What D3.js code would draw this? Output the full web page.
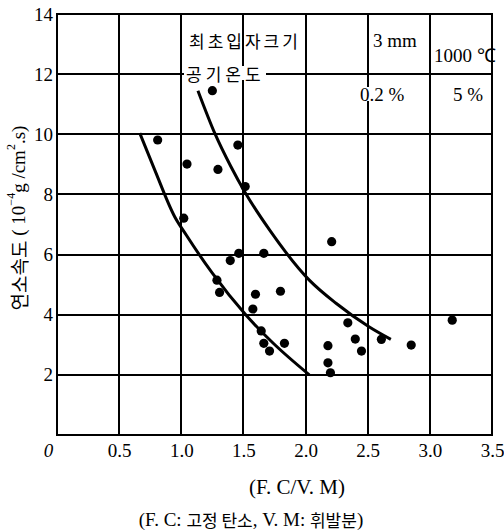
<!DOCTYPE html>
<html><head><meta charset="utf-8">
<script src="https://cdn.jsdelivr.net/npm/d3@7"></script>
<style>
body{margin:0;background:#fff;}
svg{display:block;}
</style></head>
<body>
<svg id="c" width="504" height="531"></svg>
<script>
const xTicks = [0, 0.5, 1.0, 1.5, 2.0, 2.5, 3.0, 3.5];
const xTickLabels = ["0", "0.5", "1.0", "1.5", "2.0", "2.5", "3.0", "3.5"];
const yTicks = [0, 2, 4, 6, 8, 10, 12, 14];
const yTickLabels = ["", "2", "4", "6", "8", "10", "12", "14"];

const dotX = [1.25, 0.81, 1.455, 1.046, 1.295, 1.514, 1.02, 2.21, 1.463, 1.664, 1.394, 1.287, 1.308, 1.597, 1.798, 1.576, 1.643, 1.664, 1.71, 1.83, 2.34, 2.40, 2.45, 2.61, 2.85, 3.18, 2.18, 2.18, 2.20];
const dotY = [11.45, 9.81, 9.64, 9.01, 8.83, 8.26, 7.21, 6.43, 6.04, 6.04, 5.80, 5.15, 4.74, 4.68, 4.78, 4.19, 3.46, 3.05, 2.79, 3.05, 3.73, 3.19, 2.79, 3.18, 2.99, 3.82, 2.97, 2.40, 2.07];

const upperX = [1.134, 1.27, 1.40, 1.51, 1.71, 2.03, 2.245, 2.51, 2.686];
const upperY = [11.45, 10.03, 8.92, 8.09, 6.82, 5.15, 4.38, 3.60, 3.18];
const lowerX = [0.666, 0.787, 0.947, 1.04, 1.25, 1.52, 1.74, 2.03];
const lowerY = [10.04, 8.81, 7.26, 6.65, 5.38, 3.99, 3.05, 2.0];

const svg = d3.select("#c");
const L = 57, R = 492, T = 14, B = 435;
const x = d3.scaleLinear().domain([0, 3.5]).range([L, R]);
const y = d3.scaleLinear().domain([0, 14]).range([B, T]);
const serif = "'Liberation Serif', 'Times New Roman', serif";
const kr = "'Noto Sans CJK KR', sans-serif";

// gridlines as thin filled rects
const grid = svg.append("g").attr("fill", "#000");
grid.selectAll("rect.v").data(xTicks).join("rect").attr("class", "v")
  .attr("x", d => Math.round(x(d)) - 1).attr("y", T).attr("width", 2).attr("height", B - T);
grid.selectAll("rect.h").data(yTicks).join("rect").attr("class", "h")
  .attr("x", L).attr("y", d => Math.round(y(d)) - 1).attr("width", R - L).attr("height", 2);

// axes (labels only)
const gx = svg.append("g").attr("transform", `translate(0,${B})`)
  .call(d3.axisBottom(x).tickValues(xTicks).tickSize(0).tickPadding(9)
    .tickFormat((d, i) => xTickLabels[i]));
gx.select(".domain").remove();
gx.selectAll("text").attr("font-family", serif).attr("font-size", 19).attr("fill", "#000");
gx.selectAll("text").filter((d) => d === 0).attr("font-style", "italic").attr("dx", -9);

const gy = svg.append("g").attr("transform", `translate(${L},0)`)
  .call(d3.axisLeft(y).tickValues(yTicks).tickSize(0).tickPadding(4)
    .tickFormat((d, i) => yTickLabels[i]));
gy.select(".domain").remove();
gy.selectAll("text").attr("font-family", serif).attr("font-size", 19).attr("fill", "#000");

// border
svg.append("path").attr("d", `M${L},${T}H${R}V${B}H${L}Z`)
  .attr("fill", "none").attr("stroke", "#000").attr("stroke-width", 2);

// legend texts
function label(txt, cx, cy, opts) {
  opts = opts || {};
  const t = svg.append("text").attr("x", cx).attr("y", cy)
    .attr("dominant-baseline", "central")
    .attr("font-family", opts.font || kr).attr("font-size", opts.size || 16)
    .attr("letter-spacing", opts.ls || 0).attr("fill", "#000").text(txt);
  if (opts.bg) {
    svg.insert("rect", () => t.node()).attr("x", cx - 2).attr("y", cy - opts.bg[1] / 2)
      .attr("width", opts.bg[0]).attr("height", opts.bg[1]).attr("fill", "#fff");
  }
  return t;
}
label("최초입자크기", 189, 40, {size: 17, ls: 3});
label("공기온도", 186, 73, {size: 17, ls: 4, bg: [82, 14]});
label("3 mm", 373, 40, {font: serif, size: 19});
label("1000 ℃", 434, 55, {font: serif, size: 19});
label("0.2 %", 360, 94, {font: serif, size: 19, bg: [50, 14]});
label("5 %", 453, 94, {font: serif, size: 19});

// curves
const line = d3.line().x(d => x(d[0])).y(d => y(d[1])).curve(d3.curveMonotoneX);
svg.append("path").datum(upperX.map((v, i) => [v, upperY[i]])).attr("d", line)
  .attr("fill", "none").attr("stroke", "#000").attr("stroke-width", 3);
svg.append("path").datum(lowerX.map((v, i) => [v, lowerY[i]])).attr("d", line)
  .attr("fill", "none").attr("stroke", "#000").attr("stroke-width", 3);

// dots
svg.append("g").selectAll("circle").data(dotX.map((v, i) => [v, dotY[i]])).join("circle")
  .attr("cx", d => x(d[0])).attr("cy", d => y(d[1])).attr("r", 4.6).attr("fill", "#000");

// axis titles
svg.append("text").attr("x", 297).attr("y", 487).attr("text-anchor", "middle")
  .attr("dominant-baseline", "central").attr("font-family", serif).attr("font-size", 21)
  .text("(F. C/V. M)");
const t2 = svg.append("text").attr("x", 251).attr("y", 519).attr("text-anchor", "middle")
  .attr("dominant-baseline", "central").attr("font-size", 19);
t2.append("tspan").attr("font-family", serif).text("(F. C: ");
t2.append("tspan").attr("font-family", kr).attr("font-size", 17).text("고정 탄소");
t2.append("tspan").attr("font-family", serif).text(", V. M: ");
t2.append("tspan").attr("font-family", kr).attr("font-size", 17).text("휘발분");
t2.append("tspan").attr("font-family", serif).text(")");

const yt = svg.append("text").attr("transform", "translate(18,218) rotate(-90)")
  .attr("text-anchor", "middle").attr("dominant-baseline", "central").attr("font-size", 19);
yt.append("tspan").attr("font-family", kr).attr("font-size", 19).text("연소속도");
yt.append("tspan").attr("font-family", serif).text(" ( 10");
yt.append("tspan").attr("font-family", serif).attr("font-size", 12).attr("dy", -7).text("−4");
yt.append("tspan").attr("font-family", serif).attr("dy", 7).text("g /cm");
yt.append("tspan").attr("font-family", serif).attr("font-size", 12).attr("dy", -7).text("2");
yt.append("tspan").attr("font-family", serif).attr("dy", 7).text(".s)");
</script>
</body></html>
